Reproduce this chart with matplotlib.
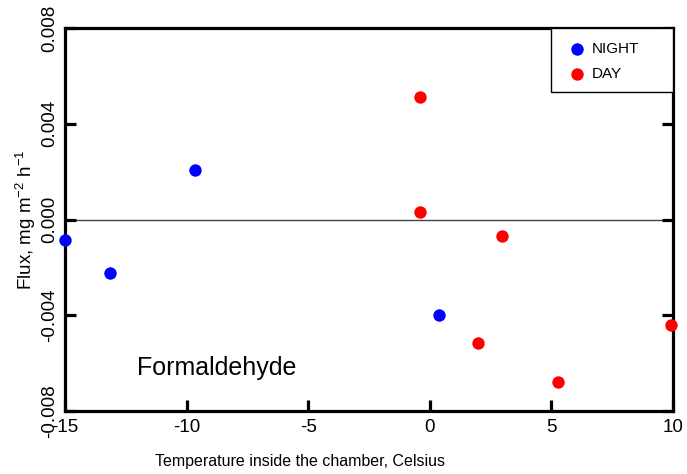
import numpy as np
import matplotlib
matplotlib.use("Agg")
import matplotlib.pyplot as plt
from matplotlib import font_manager
from matplotlib.patches import Rectangle

plt.rcParams['font.family'] = ['Liberation Sans', 'DejaVu Sans']
plt.rcParams['axes.unicode_minus'] = False
plt.rcParams['mathtext.fontset'] = 'custom'
plt.rcParams['mathtext.rm'] = 'Liberation Sans'

# night measurements
night_temp = [-15.0, -13.15, -9.65, 0.38]
night_flux = [-0.00085, -0.00225, 0.00205, -0.0040]

# day measurements
day_temp = [-0.40, -0.40, 2.97, 1.98, 5.27, 9.92]
day_flux = [0.0051, 0.00033, -0.00068, -0.00515, -0.0068, -0.0044]

xticks = [-15, -10, -5, 0, 5, 10]
yticks = [-0.008, -0.004, 0.0, 0.004, 0.008]
ytick_labels = ['-0.008', '-0.004', '0.000', '0.004', '0.008']

installed = {f.name for f in font_manager.fontManager.ttflist}
if 'Liberation Sans Narrow' in installed:
    xlab_font = dict(family='Liberation Sans Narrow', fontsize=14)
else:
    xlab_font = dict(fontsize=11.5)

fig = plt.figure(figsize=(6.87, 4.74), dpi=100)
ax = fig.add_axes([0.0946, 0.1329, 0.885, 0.808])

ax.axhline(0, color='#444444', lw=1, zorder=1)
ax.scatter(night_temp, night_flux, s=80, color='#0000ff', label='NIGHT',
           zorder=3, clip_on=False, linewidths=0)
ax.scatter(day_temp, day_flux, s=80, color='#ff0000', label='DAY',
           zorder=3, clip_on=False, linewidths=0)

ax.set_xlim(-15, 10)
ax.set_ylim(-0.008, 0.008)
ax.set_xticks(xticks)
ax.set_yticks(yticks)
ax.set_yticklabels(ytick_labels, rotation=90, va='center')

for sp in ax.spines.values():
    sp.set_linewidth(2.3)
ax.tick_params(direction='in', length=8, width=2.3, labelsize=13.5,
               right=True, top=False)
ax.tick_params(axis='x', pad=6)
ax.tick_params(axis='y', pad=5)

fig.text(300 / 687, 1 - 466 / 474, 'Temperature inside the chamber, Celsius',
         ha='center', va='baseline', **xlab_font)
ax.set_ylabel('Flux, mg m$^{-2}$ h$^{-1}$', fontsize=13.5, labelpad=2)

ax.text(-12.05, -0.0065, 'Formaldehyde', fontsize=18, va='baseline')

# legend box sits against the top right corner
ax.add_patch(Rectangle((0.799, 0.833), 0.201, 0.167, transform=ax.transAxes,
                       facecolor='white', edgecolor='black', lw=1, zorder=4,
                       clip_on=False))
leg = ax.legend(loc='upper left', bbox_to_anchor=(0.799, 1), borderaxespad=0,
                fontsize=11, frameon=False, handletextpad=0.15,
                borderpad=0.9, labelspacing=0.75, handlelength=1.6,
                scatterpoints=1)
leg.set_zorder(5)

fig.savefig('out.png', dpi=100)
